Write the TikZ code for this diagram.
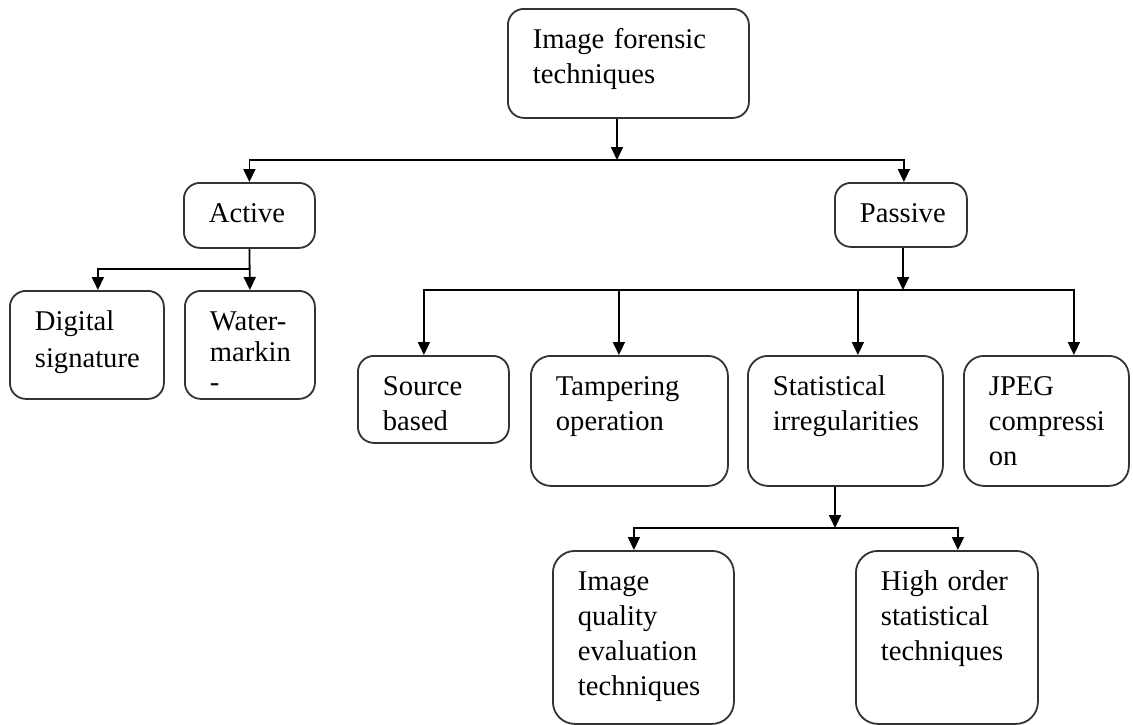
\documentclass[tikz,border=0pt]{standalone}
\usepackage{fontspec}
\setmainfont{Liberation Serif}
\usepackage{tikz}
\usetikzlibrary{arrows.meta,positioning,calc}
\tikzset{
  arr/.style={-{Triangle[length=6.5pt,width=6pt]}, line width=0.9pt, draw=black},
  techbox/.style={draw=black!80, line width=0.9pt, rounded corners=8pt, fill=white, anchor=north west,
    align=left, inner xsep=12.5pt, inner ysep=0pt, text height=20pt,
    font=\fontsize{14.3}{17.5}\selectfont},
  boxsize/.style 2 args={text width=#1, text depth=#2}
}
\begin{document}
\begin{tikzpicture}[x=0.5pt,y=-0.5pt]
  \useasboundingbox (0,0) rectangle (1133,724);

  \node[techbox, boxsize={95.5pt}{34.5pt}] (forensic) at (507,8) {Image forensic\\techniques};

  \node[techbox, boxsize={40.5pt}{12.5pt}] (active) at (183,182) {Active};
  \node[techbox, boxsize={41pt}{12pt}] (passive) at (834,182) {Passive};

  \node[techbox, boxsize={52pt}{34pt}] (digital) at (9,290) {Digital\\[1pt]signature};
  \node[techbox, boxsize={40pt}{34pt}, font=\fontsize{14.3}{15.2}\selectfont] (water) at (184,290) {Water-\\markin\\-};

  \node[techbox, boxsize={50.5pt}{23.5pt}] (source) at (357,355) {Source\\based};
  \node[techbox, boxsize={73.5pt}{45pt}, rounded corners=10pt] (tamper) at (530,355) {Tampering\\operation};
  \node[techbox, boxsize={72.5pt}{45pt}, rounded corners=10pt] (stat) at (747,355) {Statistical\\irregularities};
  \node[techbox, boxsize={57.5pt}{45pt}, rounded corners=10pt] (jpeg) at (963,355) {JPEG\\compressi\\on};

  \node[techbox, boxsize={65.5pt}{66.5pt}, rounded corners=11pt] (quality) at (552,550) {Image\\quality\\evaluation\\techniques};
  \node[techbox, boxsize={66pt}{66.5pt}, rounded corners=11pt] (highorder) at (855,550) {High order\\statistical\\techniques};

  \coordinate (j0) at (617,160);
  \coordinate (j1) at (250,269);
  \coordinate (j2) at (903,290);
  \coordinate (j3) at (835,528);

  \draw[arr] (forensic.south -| j0) -- (j0);
  \draw[arr] (j0) -| (active.north);
  \draw[arr] (j0) -| ($(passive.north)+(3,0)$);

  \draw[arr] (active.south) -- (water.north);
  \draw[arr] (j1) -| ($(digital.north)+(11,0)$);

  \draw[arr] (passive.south -| j2) -- (j2);
  \draw[arr] (j2) -| ($(source.north)+(-9.5,0)$);
  \draw[arr] (j2) -| ($(tamper.north)+(-10.5,0)$);
  \draw[arr] (j2) -| ($(stat.north)+(12.5,0)$);
  \draw[arr] (j2) -| ($(jpeg.north)+(27.5,0)$);

  \draw[arr] (stat.south -| j3) -- (j3);
  \draw[arr] (j3) -| ($(quality.north)+(-9.5,0)$);
  \draw[arr] (j3) -| ($(highorder.north)+(11,0)$);
\end{tikzpicture}
\end{document}
